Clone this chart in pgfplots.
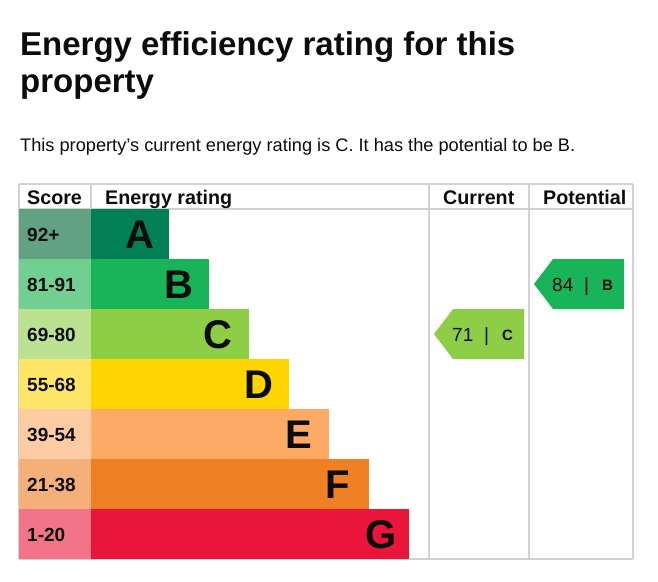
\documentclass[border=0pt]{standalone}
\usepackage{pgfplots}
\pgfplotsset{compat=1.18}
\usepackage{fontspec}
\setmainfont{Liberation Sans}
\definecolor{txt}{HTML}{0B0C0C}
\definecolor{gridc}{HTML}{D2D2D2}
\definecolor{bA}{HTML}{008054}
\definecolor{bB}{HTML}{19B459}
\definecolor{bC}{HTML}{8DCE46}
\definecolor{bD}{HTML}{FFD500}
\definecolor{bE}{HTML}{FCAA65}
\definecolor{bF}{HTML}{EF8023}
\definecolor{bG}{HTML}{E9153B}
\definecolor{sA}{HTML}{62A283}
\definecolor{sB}{HTML}{72CF92}
\definecolor{sC}{HTML}{BBE290}
\definecolor{sD}{HTML}{FFE666}
\definecolor{sE}{HTML}{FDCCA3}
\definecolor{sF}{HTML}{F5B07A}
\definecolor{sG}{HTML}{F27489}
\begin{document}
\begin{tikzpicture}
\begin{axis}[
  scale only axis, width=658pt, height=581pt,
  xmin=-91, xmax=567, ymin=0, ymax=581, y dir=reverse,
  hide axis, clip=false,
  band/.style={xbar, bar width=50, bar shift=0pt, draw=none, fill=#1, forget plot},
]
% table grid
\draw[line width=1.3pt, gridc] (axis cs:-72,184) -- (axis cs:542,184);
\draw[line width=1.3pt, gridc] (axis cs:-72,209) -- (axis cs:542,209);
\draw[line width=1.3pt, gridc] (axis cs:-72,559) -- (axis cs:542,559);
\draw[line width=1.3pt, gridc] (axis cs:-72,184) -- (axis cs:-72,559);
\draw[line width=1.3pt, gridc] (axis cs:0,184) -- (axis cs:0,209);
\draw[line width=1.3pt, gridc] (axis cs:338,184) -- (axis cs:338,559);
\draw[line width=1.3pt, gridc] (axis cs:438,184) -- (axis cs:438,559);
\draw[line width=1.3pt, gridc] (axis cs:542,184) -- (axis cs:542,559);
% score cells
\addplot[band=sA] coordinates {(-72,234)};
\addplot[band=sB] coordinates {(-72,284)};
\addplot[band=sC] coordinates {(-72,334)};
\addplot[band=sD] coordinates {(-72,384)};
\addplot[band=sE] coordinates {(-72,434)};
\addplot[band=sF] coordinates {(-72,484)};
\addplot[band=sG] coordinates {(-72,534)};
% rating bars
\addplot[band=bA] coordinates {(78,234)};
\addplot[band=bB] coordinates {(118,284)};
\addplot[band=bC] coordinates {(158,334)};
\addplot[band=bD] coordinates {(198,384)};
\addplot[band=bE] coordinates {(238,434)};
\addplot[band=bF] coordinates {(278,484)};
\addplot[band=bG] coordinates {(318,534)};
% arrows
\addplot[fill=bC, draw=none, forget plot] coordinates {(343,334) (362,309) (433,309) (433,359) (362,359)} -- cycle;
\addplot[fill=bB, draw=none, forget plot] coordinates {(443,284) (462,259) (533,259) (533,309) (462,309)} -- cycle;
% title & subtitle
\node[anchor=base west, inner sep=0pt, text=txt, font=\fontsize{33}{33}\selectfont\bfseries] at (axis cs:-71,55) {Energy efficiency rating for this};
\node[anchor=base west, inner sep=0pt, text=txt, font=\fontsize{33}{33}\selectfont\bfseries] at (axis cs:-71,92) {property};
\node[anchor=base west, inner sep=0pt, text=txt, font=\fontsize{18.2}{18.2}\selectfont] at (axis cs:-71,151) {This property’s current energy rating is C. It has the potential to be B.};
% header
\begin{scope}[every node/.style={anchor=base west, inner sep=0pt, text=txt, font=\fontsize{19.7}{19.7}\selectfont\bfseries}]
\node at (axis cs:-64,204) {Score};
\node at (axis cs:14,204) {Energy rating};
\node at (axis cs:352,204) {Current};
\node at (axis cs:452,204) {Potential};
\end{scope}
% score labels
\begin{scope}[every node/.style={anchor=base west, inner sep=0pt, text=txt, font=\fontsize{19}{19}\selectfont\bfseries}]
\node at (axis cs:-64,241) {92+};
\node at (axis cs:-64,291) {81-91};
\node at (axis cs:-64,341) {69-80};
\node at (axis cs:-64,391) {55-68};
\node at (axis cs:-64,441) {39-54};
\node at (axis cs:-64,491) {21-38};
\node at (axis cs:-64,541) {1-20};
\end{scope}
% band letters
\begin{scope}[every node/.style={anchor=base east, inner sep=0pt, text=txt, font=\fontsize{40}{40}\selectfont\bfseries}]
\node at (axis cs:64,248.5) {A};
\node at (axis cs:103,298.5) {B};
\node at (axis cs:142,348.5) {C};
\node at (axis cs:183,398.5) {D};
\node at (axis cs:221,448.5) {E};
\node at (axis cs:259,498.5) {F};
\node at (axis cs:306,548.5) {G};
\end{scope}
% arrow labels
\node[anchor=base west, inner sep=0pt, text=txt, font=\fontsize{19}{19}\selectfont] at (axis cs:361,341) {71};
\node[anchor=base west, inner sep=0pt, text=txt, font=\fontsize{19}{19}\selectfont] at (axis cs:393,341) {|};
\node[anchor=base west, inner sep=0pt, text=txt, font=\fontsize{15}{15}\selectfont\bfseries] at (axis cs:411,340) {C};
\node[anchor=base west, inner sep=0pt, text=txt, font=\fontsize{19}{19}\selectfont] at (axis cs:461,291) {84};
\node[anchor=base west, inner sep=0pt, text=txt, font=\fontsize{19}{19}\selectfont] at (axis cs:493,291) {|};
\node[anchor=base west, inner sep=0pt, text=txt, font=\fontsize{15}{15}\selectfont\bfseries] at (axis cs:511,290) {B};
\end{axis}
\pgfresetboundingbox
\path (0,0) rectangle (658pt,581pt);
\end{tikzpicture}
\end{document}
